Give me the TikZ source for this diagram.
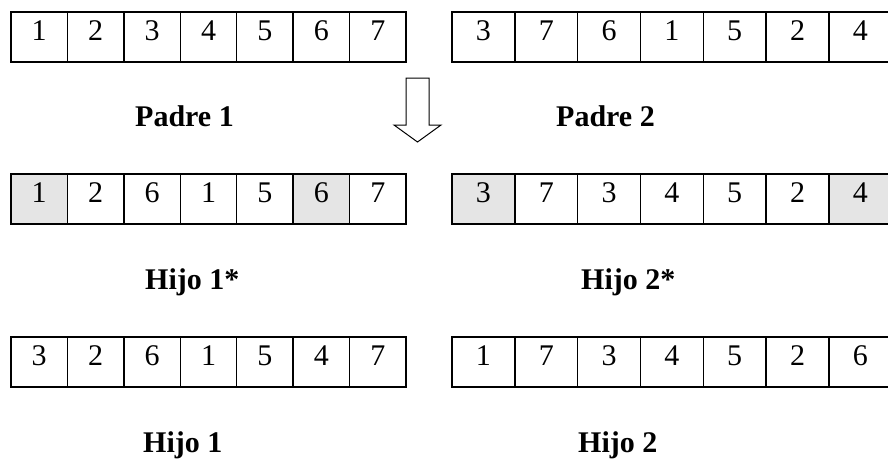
\documentclass[tikz,border=0pt]{standalone}
\usepackage{fontspec}
\setmainfont{Liberation Serif}
\begin{document}
\begin{tikzpicture}[x=1pt,y=-1pt,
  cellbox/.style={draw, line width=1.4pt, minimum width=#1, minimum height=50pt,
    inner sep=0pt, outer sep=0pt, anchor=north west},
  cellw/.style={},
  cellg/.style={fill=gray!20},
  digit/.style={inner sep=0pt, anchor=base, font=\fontsize{30}{36}\selectfont},
  caption/.style={inner sep=0pt, anchor=base west, font=\fontsize{30}{36}\selectfont\bfseries},
  flow/.style={draw, line width=1pt, line join=miter}]
\useasboundingbox (0,0) rectangle (888,458);
\clip (0,0) rectangle (888,458);

% chromosome rows: name / left edge / cell width / top edge / genes
\foreach \name/\x/\w/\top/\vals in {
  pa/11/56.43/12/{1/cellw,2/cellw,3/cellw,4/cellw,5/cellw,6/cellw,7/cellw},
  pb/452/62.83/12/{3/cellw,7/cellw,6/cellw,1/cellw,5/cellw,2/cellw,4/cellw},
  ha/11/56.43/174/{1/cellg,2/cellw,6/cellw,1/cellw,5/cellw,6/cellg,7/cellw},
  hb/452/62.83/174/{3/cellg,7/cellw,3/cellw,4/cellw,5/cellw,2/cellw,4/cellg},
  ca/11/56.43/337/{3/cellw,2/cellw,6/cellw,1/cellw,5/cellw,4/cellw,7/cellw},
  cb/452/62.83/337/{1/cellw,7/cellw,3/cellw,4/cellw,5/cellw,2/cellw,6/cellw}}{
  \foreach \v/\f [count=\i] in \vals {
    \node[cellbox=\w pt, \f] (\name\i) at ({\x+(\i-1)*\w},\top) {};
    \node[digit] (\name\i t) at ({\x+(\i-0.5)*\w},{\top+28}) {\v};
  }
}

% hollow down arrow between the parents
\path[flow] (406,78) -- (429,78) -- (429,125) -- (441,125) -- (417.5,142)
  -- (394,125) -- (406,125) -- cycle;

% captions
\node[caption] (lpa) at (135,126) {Padre 1};
\node[caption] (lpb) at (556,126) {Padre 2};
\node[caption] (lha) at (145,289) {Hijo 1*};
\node[caption] (lhb) at (581,289) {Hijo 2*};
\node[caption] (lca) at (143,452) {Hijo 1};
\node[caption] (lcb) at (578,452) {Hijo 2};
\end{tikzpicture}
\end{document}
